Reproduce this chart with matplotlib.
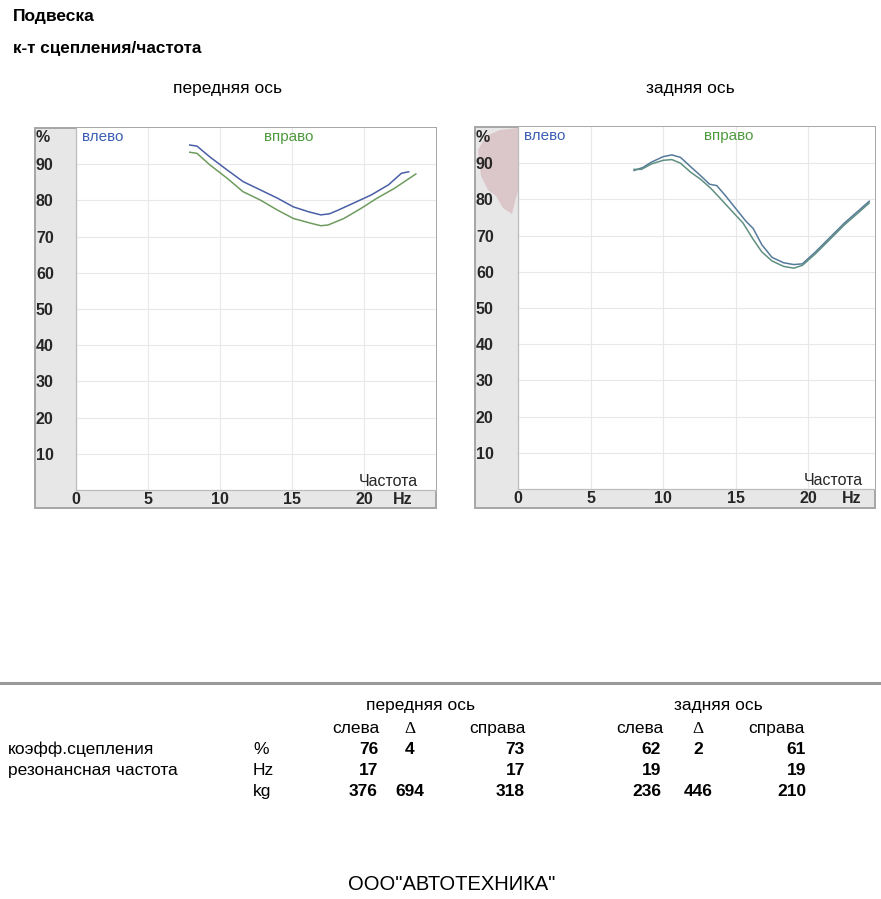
import matplotlib
matplotlib.use("Agg")
import matplotlib.pyplot as plt
from matplotlib.patches import Polygon

plt.rcParams['font.family'] = ['Liberation Sans', 'DejaVu Sans']

# ---- data -------------------------------------------------------------
x_ticks = [0, 5, 10, 15, 20]
y_ticks = [10, 20, 30, 40, 50, 60, 70, 80, 90]

# front axle: adhesion coefficient (%) vs frequency (Hz)
front_left_hz = [7.9, 8.4, 9.3, 10.5, 11.6, 12.8, 14.0, 15.1, 16.2, 17.0, 17.6,
                 18.2, 19.3, 20.5, 21.7, 22.6, 23.1]
front_left_pct = [95.3, 95.0, 92.0, 88.4, 85.2, 82.9, 80.6, 78.2, 76.8, 76.0, 76.3,
                  77.3, 79.3, 81.5, 84.3, 87.5, 87.9]
front_right_hz = [7.9, 8.4, 9.3, 10.5, 11.6, 12.8, 14.0, 15.1, 16.3, 17.0, 17.5,
                  18.6, 19.8, 20.9, 22.1, 23.6]
front_right_pct = [93.3, 93.0, 89.8, 86.1, 82.4, 80.1, 77.3, 75.0, 73.7, 73.0, 73.2,
                   75.0, 77.8, 80.6, 83.3, 87.3]

# rear axle
rear_left_hz = [8.0, 8.6, 9.2, 10.0, 10.6, 11.2, 11.9, 12.6, 13.2, 13.7, 14.3, 15.0,
                15.7, 16.2, 16.8, 17.5, 18.3, 19.0, 19.6, 20.5, 21.5, 22.5, 23.5, 24.2]
rear_left_pct = [88.0, 88.8, 90.3, 91.8, 92.3, 91.6, 89.0, 86.5, 84.2, 83.8, 81.0, 77.5,
                 74.0, 72.0, 67.5, 64.0, 62.5, 62.0, 62.2, 65.5, 69.5, 73.5, 77.0, 79.5]
rear_right_hz = [8.0, 8.5, 9.2, 10.0, 10.6, 11.2, 11.9, 12.6, 13.3, 14.0, 14.8, 15.5,
                 16.2, 16.8, 17.5, 18.3, 19.0, 19.6, 20.5, 21.5, 22.5, 23.5, 24.2]
rear_right_pct = [88.3, 88.3, 89.8, 90.8, 91.0, 90.0, 87.5, 85.5, 83.0, 80.0, 76.5, 73.5,
                  69.0, 65.5, 63.0, 61.5, 61.0, 61.8, 65.0, 69.0, 73.0, 76.5, 79.0]

# summary table
row_labels = ["коэфф.сцепления", "резонансная частота", ""]
row_units = ["%", "Hz", "kg"]
front_left_vals = ["76", "17", "376"]
front_delta_vals = ["4", "", "694"]
front_right_vals = ["73", "17", "318"]
rear_left_vals = ["62", "19", "236"]
rear_delta_vals = ["2", "", "446"]
rear_right_vals = ["61", "19", "210"]

# ---- layout helpers ---------------------------------------------------
W, H = 881, 899
fig = plt.figure(figsize=(W / 100, H / 100), dpi=100)
fig.patch.set_facecolor("white")


def rect(x0, y0, x1, y1):
    return [x0 / W, 1 - y1 / H, (x1 - x0) / W, (y1 - y0) / H]


def fxy(px, py):
    return px / W, 1 - py / H


BLUE_TXT = "#3d5fb4"
GREEN_TXT = "#4f9a3e"
TICK_C = "#262626"
TS = 11.5


def panel(frame_box, plot_box, xmax, hz_at, series, colors):
    fx0, fy0, fx1, fy1 = frame_box
    frame = fig.add_axes(rect(*frame_box))
    frame.set_facecolor("#e7e7e7")
    frame.set_xticks([])
    frame.set_yticks([])
    for s in frame.spines.values():
        s.set_color("#a6a6a6")
        s.set_linewidth(1.4)

    ax = fig.add_axes(rect(*plot_box))
    ax.set_facecolor("white")
    ax.set_xlim(0, xmax)
    ax.set_ylim(0, 100)
    ax.grid(True, color="#e8e8e8", lw=0.8)
    ax.set_axisbelow(True)
    for k in ("top", "right"):
        ax.spines[k].set_visible(False)
    for k in ("left", "bottom"):
        ax.spines[k].set_color("#bdbdbd")
        ax.spines[k].set_linewidth(0.9)

    pad_pts = (plot_box[0] - fx0 - 1) * 72 / 100
    ax.set_yticks(y_ticks, [str(v) for v in y_ticks], ha="left")
    ax.tick_params(axis="y", length=0, pad=pad_pts, labelsize=TS,
                   labelcolor=TICK_C)
    ax.set_xticks(x_ticks, [str(v) for v in x_ticks])
    ax.tick_params(axis="x", length=0, pad=1.5, labelsize=TS, labelcolor=TICK_C)
    for lab in ax.get_xticklabels() + ax.get_yticklabels():
        lab.set_fontweight("bold")

    tx = ax.get_xaxis_transform()
    ax.text(hz_at, -0.027, "Hz", transform=tx, ha="center", va="center",
            fontsize=TS, fontweight="bold", color=TICK_C)
    ax.text(21.7, 2.3, "Частота", ha="center", va="center", fontsize=11.5,
            color=TICK_C)
    fig.text(*fxy(fx0 + 1, fy0 + 10), "%", ha="left", va="center",
             fontsize=TS, fontweight="bold", color=TICK_C)

    ax.text(0.018, 0.975, "влево", transform=ax.transAxes, ha="left",
            va="center", fontsize=11, color=BLUE_TXT)
    ax.text(0.59, 0.975, "вправо", transform=ax.transAxes, ha="center",
            va="center", fontsize=11, color=GREEN_TXT)

    for (xs, ys), c in zip(series, colors):
        ax.plot(xs, ys, color=c, lw=1.1, solid_joinstyle="round")
    return frame, ax


panel((35, 128, 436, 508), (76, 128, 436, 490), 25.0, 22.7,
      [(front_left_hz, front_left_pct), (front_right_hz, front_right_pct)],
      ["#4a5ea6", "#6e9c5e"])
frame_r, ax_r = panel((475, 127, 875, 508), (518, 127, 875, 489), 24.6, 23.0,
                      [(rear_left_hz, rear_left_pct), (rear_right_hz, rear_right_pct)],
                      ["#557a9c", "#5f8f82"])

# faint stamp blot on the rear panel's label strip
blot = [(478, 150), (486, 136), (500, 130), (518, 128), (530, 131), (522, 140),
        (519, 158), (521, 180), (516, 198), (512, 214), (503, 208), (496, 196),
        (488, 190), (481, 176)]
frame_r.add_patch(Polygon([fxy(px, py) for px, py in blot], closed=True,
                          transform=fig.transFigure, facecolor="#dbc7c9",
                          edgecolor="none", zorder=1))

# ---- titles -----------------------------------------------------------
fig.text(*fxy(13, 17), "Подвеска", ha="left", va="center", fontsize=12.5,
         fontweight="bold")
fig.text(*fxy(13, 48), "к-т сцепления/частота", ha="left", va="center",
         fontsize=12.3, fontweight="bold")
fig.text(*fxy(228, 88), "передняя ось", ha="center", va="center", fontsize=12.5)
fig.text(*fxy(690, 88), "задняя ось", ha="center", va="center", fontsize=12.5)

# ---- summary table ----------------------------------------------------
fig.add_artist(plt.Line2D([0, 1], [1 - 683 / H] * 2, color="#9a9a9a", lw=2.2))

TF = 12.5
VA = "center_baseline"
fig.text(*fxy(421, 704), "передняя ось", ha="center", va=VA, fontsize=TF)
fig.text(*fxy(718, 704), "задняя ось", ha="center", va=VA, fontsize=TF)
sub_y = 727
for cx, t in [(356, "слева"), (410, "Δ"), (497, "справа"),
              (640, "слева"), (698, "Δ"), (776, "справа")]:
    fam = ["Liberation Serif"] if t == "Δ" else None
    fig.text(*fxy(cx, sub_y), t, ha="center", va=VA, fontsize=TF, family=fam)

row_y = [748, 769, 790]
for i, y in enumerate(row_y):
    fig.text(*fxy(8, y), row_labels[i], ha="left", va=VA, fontsize=TF)
    fig.text(*fxy(253, y), row_units[i], ha="left", va=VA, fontsize=TF)
    fig.text(*fxy(378, y), front_left_vals[i], ha="right", va=VA,
             fontsize=TF, fontweight="bold")
    fig.text(*fxy(410, y), front_delta_vals[i], ha="center", va=VA,
             fontsize=TF, fontweight="bold")
    fig.text(*fxy(525, y), front_right_vals[i], ha="right", va=VA,
             fontsize=TF, fontweight="bold")
    fig.text(*fxy(661, y), rear_left_vals[i], ha="right", va=VA,
             fontsize=TF, fontweight="bold")
    fig.text(*fxy(698, y), rear_delta_vals[i], ha="center", va=VA,
             fontsize=TF, fontweight="bold")
    fig.text(*fxy(806, y), rear_right_vals[i], ha="right", va=VA,
             fontsize=TF, fontweight="bold")

fig.text(*fxy(452, 884), "ООО\"АВТОТЕХНИКА\"", ha="center", va="center",
         fontsize=14.5)

fig.savefig("out.png", dpi=100, facecolor="white")
